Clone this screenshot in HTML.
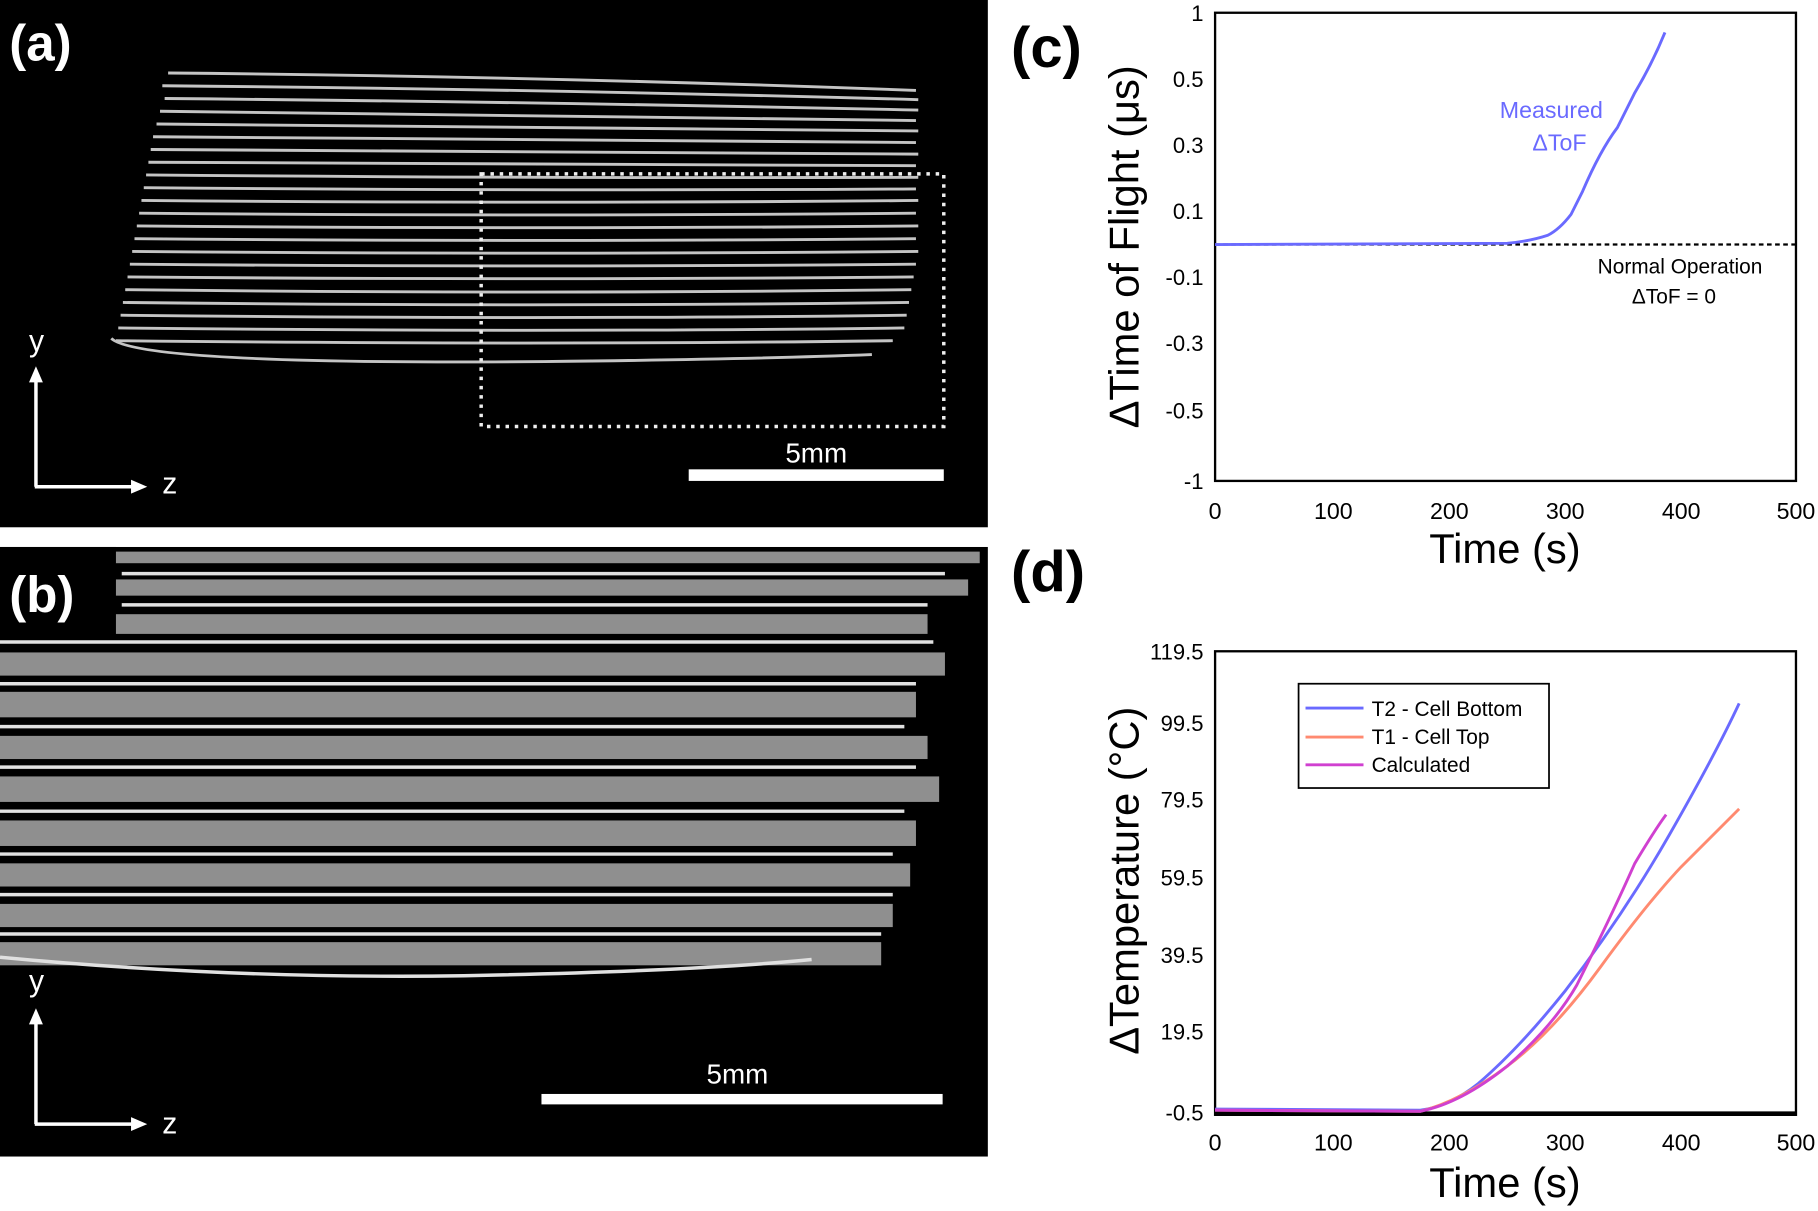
<!DOCTYPE html>
<html><head><meta charset="utf-8"><style>
html,body{margin:0;padding:0;background:#fff;width:1818px;height:1211px;overflow:hidden}
svg{display:block}
text{font-family:"Liberation Sans",sans-serif}
</style></head><body>
<svg width="1818" height="1211" viewBox="0 0 1568 1045" preserveAspectRatio="none" xmlns="http://www.w3.org/2000/svg">
<rect width="1568" height="1045" fill="#fff"/>
<!-- Panel a -->
<rect x="0" y="0" width="852" height="455" fill="#000"/>
<g stroke="#c4c4c4" stroke-width="2.5" fill="none">
<path d="M145 63 Q470 66 790 78"/>
<path d="M140 74 Q470 77 792 86"/>
<path d="M142 85 Q470 88 792 95"/>
<path d="M138 96 Q470 99 790 104"/>
<path d="M135 107 Q470 110 792 113"/>
<path d="M132 118 Q470 121 790 123"/>
<path d="M130 129 Q470 132 792 133"/>
<path d="M128 140 Q470 143 790 143"/>
<path d="M126 151 Q470 154 792 153"/>
<path d="M124 162 Q470 165 790 163"/>
<path d="M122 173 Q470 176 792 173"/>
<path d="M120 184 Q470 187 790 184"/>
<path d="M118 195 Q470 198 792 195"/>
<path d="M116 206 Q470 209 790 206"/>
<path d="M114 217 Q470 220 792 217"/>
<path d="M112 228 Q470 231 790 228"/>
<path d="M110 239 Q470 242 788 239"/>
<path d="M108 250 Q470 254 786 250"/>
<path d="M106 261 Q470 265 784 261"/>
<path d="M104 272 Q470 276 782 272"/>
<path d="M102 283 Q470 287 780 283"/>
<path d="M100 294 Q470 298 770 294"/>
<path d="M96 292 Q120 315 470 312 Q650 310 752 306"/>
</g>
<rect x="415" y="150" width="399" height="218" fill="none" stroke="#eee" stroke-width="3" stroke-dasharray="3 5"/>
<rect x="594" y="405" width="220" height="10" fill="#fff"/>
<text x="704" y="399" font-size="24" fill="#fff" text-anchor="middle">5mm</text>
<text x="8" y="52" font-size="44" font-weight="bold" fill="#fff">(a)</text>
<g stroke="#fff" stroke-width="3" fill="#fff"><line x1="31" y1="420" x2="31" y2="325"/><line x1="30" y1="420" x2="115" y2="420"/></g>
<polygon points="31,316 25,330 37,330" fill="#fff"/><polygon points="127,420 113,414 113,426" fill="#fff"/>
<text x="25" y="303" font-size="26" fill="#fff">y</text><text x="140" y="426" font-size="26" fill="#fff">z</text>
<!-- Panel b -->
<rect x="0" y="472" width="852" height="526" fill="#000"/>
<g fill="#8f8f8f">
<rect x="0" y="476" width="845" height="10"/>
<rect x="0" y="500" width="835" height="14"/>
<rect x="0" y="530" width="800" height="17"/>
<rect x="0" y="563" width="815" height="20"/>
<rect x="0" y="597" width="790" height="22"/>
<rect x="0" y="635" width="800" height="20"/>
<rect x="0" y="670" width="810" height="22"/>
<rect x="0" y="708" width="790" height="22"/>
<rect x="0" y="745" width="785" height="20"/>
<rect x="0" y="780" width="770" height="20"/>
<rect x="0" y="813" width="760" height="20"/>
</g>
<g stroke="#e0e0e0" stroke-width="3" fill="none">
<path d="M105 495 H815"/><path d="M105 522 H800"/><path d="M0 554 H805"/><path d="M0 590 H790"/>
<path d="M0 627 H780"/><path d="M0 662 H790"/><path d="M0 700 H780"/><path d="M0 737 H770"/>
<path d="M0 772 H770"/><path d="M0 806 H760"/>
<path d="M0 826 Q200 845 400 842 Q600 838 700 828"/>
</g>
<rect x="0" y="472" width="100" height="78" fill="#000"/>
<text x="8" y="528" font-size="44" font-weight="bold" fill="#fff">(b)</text>
<rect x="467" y="944" width="346" height="9" fill="#fff"/>
<text x="636" y="935" font-size="24" fill="#fff" text-anchor="middle">5mm</text>
<g stroke="#fff" stroke-width="3"><line x1="31" y1="970" x2="31" y2="880"/><line x1="30" y1="970" x2="115" y2="970"/></g>
<polygon points="31,870 25,884 37,884" fill="#fff"/><polygon points="127,970 113,964 113,976" fill="#fff"/>
<text x="25" y="855" font-size="26" fill="#fff">y</text><text x="140" y="978" font-size="26" fill="#fff">z</text>
<!-- Panel c -->
<text x="872" y="58" font-size="50" font-weight="bold">(c)</text>
<rect x="1048" y="11" width="501" height="404" fill="none" stroke="#000" stroke-width="2"/>
<g font-size="19" text-anchor="end">
<text x="1038" y="18">1</text><text x="1038" y="75">0.5</text><text x="1038" y="132">0.3</text><text x="1038" y="189">0.1</text>
<text x="1038" y="246">-0.1</text><text x="1038" y="303">-0.3</text><text x="1038" y="361">-0.5</text><text x="1038" y="422">-1</text>
</g>
<g font-size="20" text-anchor="middle">
<text x="1048" y="448">0</text><text x="1150" y="448">100</text><text x="1250" y="448">200</text><text x="1350" y="448">300</text><text x="1450" y="448">400</text><text x="1549" y="448">500</text>
</g>
<text x="1298" y="486" font-size="36" text-anchor="middle">Time (s)</text>
<text transform="translate(982,213) rotate(-90)" font-size="36" text-anchor="middle">ΔTime of Flight (μs)</text>
<line x1="1048" y1="211" x2="1549" y2="211" stroke="#000" stroke-width="2" stroke-dasharray="4 3"/>
<path d="M1048 211 L1300 210 Q1320 208 1335 203 Q1345 198 1355 185 L1365 165 Q1380 130 1395 110 L1410 80 Q1425 55 1436 28" fill="none" stroke="#6a6aff" stroke-width="2.5"/>
<text x="1338" y="102" font-size="20" fill="#6a6aff" text-anchor="middle">Measured</text>
<text x="1345" y="130" font-size="20" fill="#6a6aff" text-anchor="middle">ΔToF</text>
<text x="1520" y="236" font-size="18" text-anchor="end">Normal Operation</text>
<text x="1480" y="262" font-size="18" text-anchor="end">ΔToF = 0</text>
<!-- Panel d -->
<text x="872" y="510" font-size="50" font-weight="bold">(d)</text>
<rect x="1048" y="562" width="501" height="400" fill="none" stroke="#000" stroke-width="2"/>
<line x1="1048" y1="961" x2="1549" y2="961" stroke="#000" stroke-width="4"/>
<g font-size="19" text-anchor="end">
<text x="1038" y="569">119.5</text><text x="1038" y="631">99.5</text><text x="1038" y="697">79.5</text><text x="1038" y="764">59.5</text>
<text x="1038" y="831">39.5</text><text x="1038" y="897">19.5</text><text x="1038" y="967">-0.5</text>
</g>
<g font-size="20" text-anchor="middle">
<text x="1048" y="993">0</text><text x="1150" y="993">100</text><text x="1250" y="993">200</text><text x="1350" y="993">300</text><text x="1450" y="993">400</text><text x="1549" y="993">500</text>
</g>
<text x="1298" y="1033" font-size="36" text-anchor="middle">Time (s)</text>
<text transform="translate(982,760) rotate(-90)" font-size="36" text-anchor="middle">ΔTemperature  (°C)</text>
<path d="M1048 957 L1225 958 Q1250 955 1275 935 Q1310 905 1350 855 Q1400 790 1440 720 Q1480 650 1500 607" fill="none" stroke="#6a6aff" stroke-width="2.5"/>
<path d="M1048 958 L1225 959 Q1260 950 1300 920 Q1340 890 1380 835 Q1420 780 1450 748 Q1480 718 1500 698" fill="none" stroke="#ff8a70" stroke-width="2.5"/>
<path d="M1048 958 L1225 959 Q1260 952 1300 920 Q1340 885 1360 850 Q1390 790 1410 745 Q1428 715 1437 703" fill="none" stroke="#d040d0" stroke-width="2.5"/>
<rect x="1120" y="590" width="216" height="90" fill="#fff" stroke="#000" stroke-width="1.5"/>
<line x1="1126" y1="611" x2="1176" y2="611" stroke="#6a6aff" stroke-width="2.5"/>
<line x1="1126" y1="636" x2="1176" y2="636" stroke="#ff8a70" stroke-width="2.5"/>
<line x1="1126" y1="660" x2="1176" y2="660" stroke="#d040d0" stroke-width="2.5"/>
<g font-size="18"><text x="1183" y="618">T2 - Cell Bottom</text><text x="1183" y="642">T1 - Cell Top</text><text x="1183" y="666">Calculated</text></g>
</svg>
</body></html>
